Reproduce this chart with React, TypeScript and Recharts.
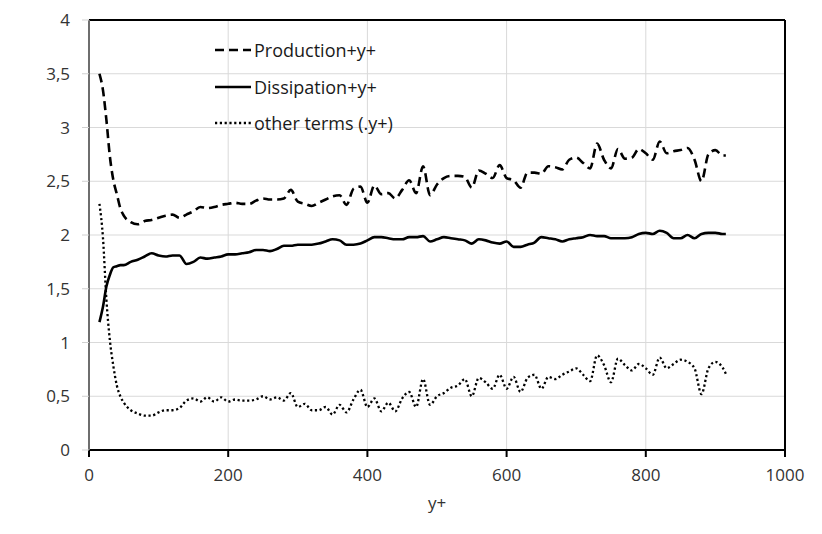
import { LineChart, Line, XAxis, YAxis, CartesianGrid, ReferenceLine, Legend } from 'recharts';

// y+ positions (shared by all three curves)
const yPlus = [
  15, 20, 25, 30, 35, 40, 45, 50,
  60, 70, 80, 90, 100, 110, 120, 130, 140, 150,
  160, 170, 180, 190, 200, 210, 220, 230, 240, 250,
  260, 270, 280, 290, 300, 310, 320, 330, 340, 350,
  360, 370, 380, 390, 400, 410, 420, 430, 440, 450,
  460, 470, 480, 490, 500, 510, 520, 530, 540, 550,
  560, 570, 580, 590, 600, 610, 620, 630, 640, 650,
  660, 670, 680, 690, 700, 710, 720, 730, 740, 750,
  760, 770, 780, 790, 800, 810, 820, 830, 840, 850,
  860, 870, 880, 890, 900, 910, 915,
];

const production = [
  3.5, 3.35, 3.07, 2.73, 2.51, 2.38, 2.25, 2.18,
  2.12, 2.1, 2.13, 2.14, 2.16, 2.18, 2.19, 2.16, 2.19, 2.22,
  2.26, 2.25, 2.26, 2.28, 2.29, 2.3, 2.29, 2.29, 2.32, 2.34,
  2.33, 2.33, 2.34, 2.42, 2.31, 2.29, 2.27, 2.3, 2.33, 2.36,
  2.37, 2.28, 2.43, 2.45, 2.3, 2.46, 2.38, 2.39, 2.34, 2.42,
  2.51, 2.39, 2.64, 2.37, 2.47, 2.53, 2.55, 2.55, 2.54, 2.44,
  2.6, 2.57, 2.53, 2.65, 2.53, 2.51, 2.44, 2.58, 2.58, 2.57,
  2.64, 2.63, 2.61, 2.7, 2.72, 2.67, 2.62, 2.85, 2.7, 2.62,
  2.8, 2.71, 2.72, 2.8, 2.76, 2.7, 2.87, 2.76, 2.78, 2.79,
  2.81, 2.7, 2.5, 2.75, 2.79, 2.74, 2.74,
];

const dissipation = [
  1.19, 1.33, 1.52, 1.63, 1.7, 1.71, 1.72, 1.72,
  1.75, 1.77, 1.8, 1.83, 1.81, 1.8, 1.81, 1.81, 1.73, 1.75,
  1.79, 1.78, 1.79, 1.8, 1.82, 1.82, 1.83, 1.84, 1.86, 1.86,
  1.85, 1.87, 1.9, 1.9, 1.91, 1.91, 1.91, 1.92, 1.94, 1.96,
  1.95, 1.91, 1.91, 1.92, 1.95, 1.98, 1.98, 1.97, 1.96, 1.96,
  1.98, 1.98, 1.99, 1.94, 1.96, 1.98, 1.97, 1.96, 1.95, 1.92,
  1.96, 1.95, 1.93, 1.92, 1.94, 1.89, 1.89, 1.91, 1.93, 1.98,
  1.97, 1.96, 1.94, 1.96, 1.97, 1.98, 2.0, 1.99, 1.99, 1.97,
  1.97, 1.97, 1.98, 2.01, 2.02, 2.01, 2.04, 2.02, 1.97, 1.97,
  2.0, 1.97, 2.01, 2.02, 2.02, 2.01, 2.01,
];

const otherTerms = [
  2.29, 1.98, 1.4, 1.02, 0.78, 0.6, 0.5, 0.44,
  0.37, 0.34, 0.32, 0.32, 0.35, 0.37, 0.37, 0.39, 0.46, 0.48,
  0.45, 0.49, 0.45, 0.49, 0.45, 0.47, 0.46, 0.46, 0.47, 0.5,
  0.47, 0.49, 0.46, 0.53, 0.4, 0.43, 0.37, 0.37, 0.4, 0.33,
  0.42, 0.35, 0.47, 0.56, 0.4, 0.48, 0.36, 0.44, 0.36, 0.48,
  0.54, 0.4, 0.66, 0.42, 0.5, 0.53, 0.58, 0.6, 0.66, 0.5,
  0.67, 0.63, 0.57, 0.7, 0.57, 0.68, 0.54, 0.67, 0.7, 0.57,
  0.68, 0.66, 0.7, 0.73, 0.76, 0.7, 0.64, 0.88, 0.79, 0.63,
  0.85, 0.79, 0.74, 0.8, 0.76, 0.7, 0.86, 0.76, 0.8, 0.84,
  0.82, 0.76, 0.52, 0.76, 0.82, 0.77, 0.71,
];

const xTicks = [0, 200, 400, 600, 800, 1000];
const yTicks = [0, 0.5, 1, 1.5, 2, 2.5, 3, 3.5, 4];

const series = [
  { key: 'production', name: 'Production+y+', dash: '9 5', width: 2.6 },
  { key: 'dissipation', name: 'Dissipation+y+', dash: undefined, width: 2.6 },
  { key: 'other', name: 'other terms (.y+)', dash: '2.2 2.6', width: 2.3 },
];

const data = yPlus.map((x, i) => ({
  x,
  production: production[i],
  dissipation: dissipation[i],
  other: otherTerms[i],
}));

const font = '"Open Sans", "Noto Sans", sans-serif';

function LegendBox() {
  return (
    <div style={{ fontFamily: font, fontSize: 18, color: '#1a1a1a' }}>
      {series.map(s => (
        <div key={s.key} style={{ display: 'flex', alignItems: 'center', height: 36.5 }}>
          <svg width={38} height={10} style={{ marginRight: 2 }}>
            <line
              x1={1}
              y1={5}
              x2={37}
              y2={5}
              stroke="#000"
              strokeWidth={s.width}
              strokeDasharray={s.dash}
            />
          </svg>
          <span style={{ whiteSpace: 'nowrap' }}>{s.name}</span>
        </div>
      ))}
    </div>
  );
}

export default function App() {
  return (
    <LineChart
      width={806}
      height={518}
      data={data}
      margin={{ top: 12, right: 29, bottom: 17, left: 21 }}
      style={{ fontFamily: font }}
    >
      <CartesianGrid stroke="#d9d9d9" strokeWidth={1} />
      <XAxis
        dataKey="x"
        type="number"
        domain={[0, 1000]}
        ticks={xTicks}
        height={59}
        stroke="#000"
        strokeWidth={2}
        tickSize={7}
        tickMargin={12}
        tick={{ fill: '#333', fontSize: 17 }}
        label={{ value: 'y+', position: 'insideBottom', offset: 0, fill: '#333', fontSize: 17 }}
      />
      <YAxis
        type="number"
        domain={[0, 4]}
        ticks={yTicks}
        width={60}
        axisLine={{ stroke: '#6e6e6e', strokeWidth: 2 }}
        tickLine={{ stroke: '#d0d0d0' }}
        tickSize={7}
        tickMargin={12}
        tick={{ fill: '#333', fontSize: 17 }}
        tickFormatter={(v: number) => String(v).replace('.', ',')}
      />
      <ReferenceLine y={4} stroke="#000" strokeWidth={2} />
      <ReferenceLine x={1000} stroke="#000" strokeWidth={2} />
      <Legend
        layout="horizontal"
        verticalAlign="middle"
        align="center"
        content={() => <LegendBox />}
        wrapperStyle={{ top: 24, left: 206, width: 240, height: 110 }}
      />
      {series.map(s => (
        <Line
          key={s.key}
          dataKey={s.key}
          name={s.name}
          type="monotone"
          stroke="#000"
          strokeWidth={s.width}
          strokeDasharray={s.dash}
          dot={false}
          activeDot={false}
          isAnimationActive={false}
        />
      ))}
    </LineChart>
  );
}
